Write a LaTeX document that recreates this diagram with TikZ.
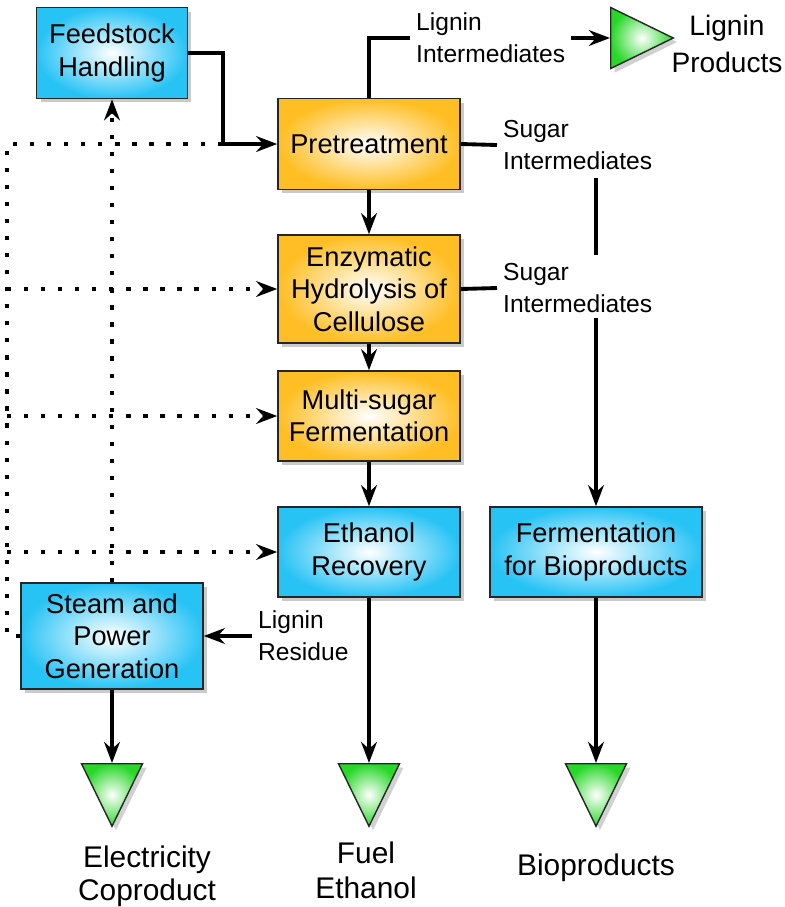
\documentclass[tikz,border=0pt]{standalone}
\usepackage{fontspec}
\setmainfont{Liberation Sans}
\usetikzlibrary{arrows.meta,shapes.geometric,shadows}
\definecolor{skyb}{RGB}{40,195,245}
\definecolor{gold}{RGB}{255,190,35}
\definecolor{leaf}{RGB}{40,215,40}
\begin{document}
\begin{tikzpicture}[x=0.02cm,y=-0.02cm,>={Stealth[length=12pt,width=9pt,inset=4pt]},line join=miter,
	box/.style={draw=black!85,line width=0.9pt,shading=radial,inner color=white,align=center,font=\fontsize{15.5}{18.5}\selectfont,drop shadow={shadow xshift=0.08cm,shadow yshift=-0.08cm,opacity=0.35,fill=black!60}},
	bbox/.style={box,outer color=skyb},
	obox/.style={box,outer color=gold},
	tri/.style={draw=black!85,line width=0.8pt,isosceles triangle,isosceles triangle apex angle=52,minimum width=1.22cm,minimum height=1.22cm,inner sep=0pt,shading=radial,inner color=white,outer color=leaf,drop shadow={shadow xshift=0.08cm,shadow yshift=-0.08cm,opacity=0.3,fill=black!60}},
	lab/.style={align=left,font=\fontsize{14}{18}\selectfont},
	big/.style={align=center,font=\fontsize{17}{20}\selectfont},
	wire/.style={line width=2.2pt},
	flow/.style={wire,->},
	dots/.style={line width=2.4pt,dash pattern=on 2.4pt off 7.3pt,->}]
				\useasboundingbox (0,0) rectangle (785,907);
				\path
				(112,53)node[bbox,minimum width=3.02cm,minimum height=1.82cm](F){Feedstock\\Handling}
				(369,144)node[obox,minimum width=3.64cm,minimum height=1.82cm](P){Pretreatment}
				(369,289)node[obox,minimum width=3.64cm,minimum height=2.16cm](E){Enzymatic\\Hydrolysis of\\Cellulose}
				(369,416)node[obox,minimum width=3.64cm,minimum height=1.8cm](M){Multi-sugar\\Fermentation}
				(369,552)node[bbox,minimum width=3.64cm,minimum height=1.8cm](R){Ethanol\\Recovery}
				(596,552)node[bbox,minimum width=4.24cm,minimum height=1.8cm](B){Fermentation\\for Bioproducts}
				(112,636)node[bbox,minimum width=3.64cm,minimum height=2.12cm](S){Steam and\\Power\\Generation}
				(610,38)node[tri,anchor=west](T4){}
				(112,763)node[tri,shape border rotate=-90,anchor=north](T1){}
				(369,763)node[tri,shape border rotate=-90,anchor=north](T2){}
				(596,763)node[tri,shape border rotate=-90,anchor=north](T3){}
				(410,38)node[lab,anchor=west](L1){Lignin\\Intermediates}
				(497,145)node[lab,anchor=west](L2){Sugar\\Intermediates}
				(497,288)node[lab,anchor=west](L3){Sugar\\Intermediates}
				(252,636)node[lab,anchor=west](L4){Lignin\\Residue}
				(727,44)node[big,font=\fontsize{16}{21.5}\selectfont](L5){Lignin\\Products}
				(147,876)node[big,font=\fontsize{17}{19}\selectfont](L6){Electricity\\Coproduct}
				(366,870)node[big](L7){Fuel\\Ethanol}
				(596,868)node[big](L8){Bioproducts}
				(223,53)coordinate(C1)
				(596,178)coordinate(V1)
				(596,255)coordinate(V2)
				(596,318)coordinate(V3)
				(7,144)coordinate(D1)
				(7,289)coordinate(D2)
				(7,416)coordinate(D3)
				(7,552)coordinate(D4)
				;
				\draw[dots,-](S.west)-|(D1)--(D1-|C1);
				\draw[dots](D2)--(E.west);
				\draw[dots](D3)--(M.west);
				\draw[dots](D4)--(R.west);
				\draw[dots](S.north)--(F.south);
				\draw[flow](F.east)--(C1)|-(P.west);
				\draw[wire](P.north)|-(L1.west);
				\draw[flow](L1.east)--(T4.west);
				\draw[wire](P.east)--(L2.west);
				\draw[wire](V1)--(V2);
				\draw[wire](E.east)--(L3.west);
				\draw[flow](V3)--(B.north);
				\draw[flow](P)--(E);
				\draw[flow](E)--(M);
				\draw[flow](M)--(R);
				\draw[flow](R)--(T2.north);
				\draw[flow](L4.west)--(S.east);
				\draw[flow](S)--(T1.north);
				\draw[flow](B)--(T3.north);
			\end{tikzpicture}
\end{document}
